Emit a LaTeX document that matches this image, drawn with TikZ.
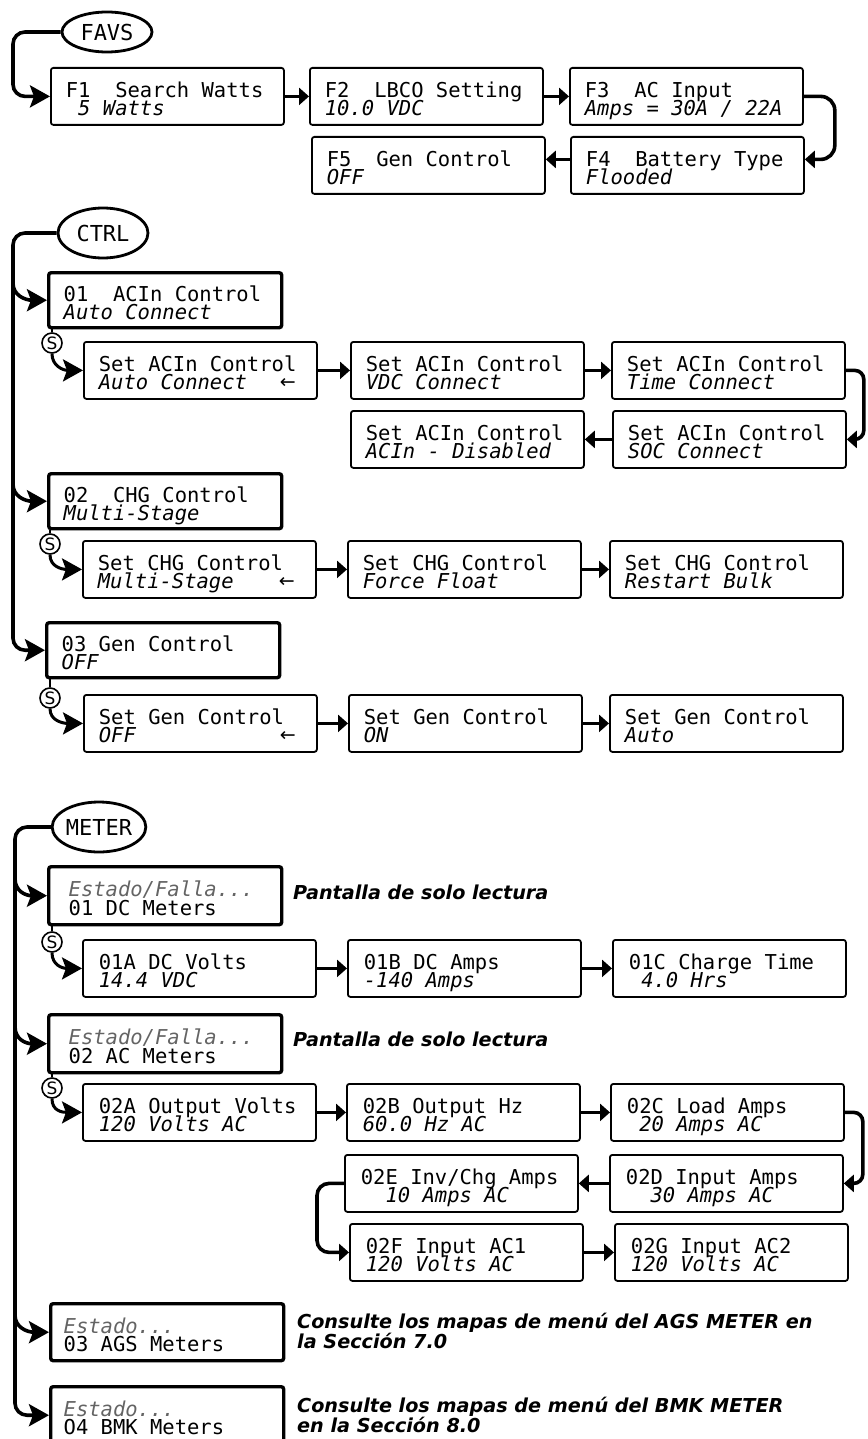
\documentclass[tikz,border=0pt]{standalone}
\usepackage{fontspec}
\setmainfont{DejaVu Sans}
\setsansfont{DejaVu Sans}
\setmonofont{DejaVu Sans Mono}
\usepackage{xcolor}
\usetikzlibrary{arrows.meta,shapes.geometric,calc}

\definecolor{lcdgray}{RGB}{100,100,100}

\newcommand{\lcd}[2]{\spaceskip=0.602em\relax\rule{0pt}{20.5pt}#1\\\smash{\itshape #2}}
\newcommand{\lcdsel}[2]{\spaceskip=0.602em\relax\rule{0pt}{20.5pt}#1\\\smash{\itshape #2}\hskip 0pt plus 1filll\raisebox{1pt}{\smash{\sffamily\fontsize{19}{19}\selectfont ←}}\kern6pt}
\newcommand{\lcdst}[2]{\spaceskip=0.602em\relax\rule{0pt}{20.5pt}{\color{lcdgray}\itshape #1}\\\smash{#2}}

\tikzset{
    lcdbox/.style={draw, anchor=north west, line width=1.8pt, rounded corners=2.5pt,
        minimum width=233pt, minimum height=57pt, text width=203pt, inner sep=0pt,
        align=left, font=\ttfamily\fontsize{20.5}{18.5}\selectfont},
    menubox/.style={lcdbox, line width=3.4pt, minimum height=55pt},
    meterbox/.style={lcdbox, text width=201pt},
    tabnode/.style={ellipse, draw, line width=2.8pt, minimum width=90pt, minimum height=40pt,
        inner sep=0pt, font=\ttfamily\fontsize{22}{22}\selectfont},
    setnode/.style={circle, draw, line width=1.6pt, minimum size=20pt, inner sep=0pt,
        font=\sffamily\fontsize{17}{17}\selectfont},
    note/.style={anchor=base west, align=left, inner sep=0pt,
        font=\sffamily\bfseries\itshape\fontsize{19.2}{20}\selectfont},
    bus/.style={line width=3.6pt, rounded corners=12pt, -{Stealth[length=20pt,width=22pt,inset=4pt]}},
    branch/.style={line width=3.6pt, -{Stealth[length=20pt,width=22pt,inset=4pt]}},
    link/.style={line width=3.6pt, -{Triangle[length=10pt,width=17pt]}},
}

\begin{document}
\begin{tikzpicture}[x=1pt, y=-1pt]

    \useasboundingbox (0,0) rectangle (867,1439);

    \draw (107,32) node[tabnode](favs){FAVS};
    \coordinate (fbus) at (13,0);
    \draw (50,67) node[lcdbox](f1){\lcd{F1~~Search Watts}{~5 Watts}};
    \draw (309,67) node[lcdbox](f2){\lcd{F2~~LBCO Setting}{10.0 VDC}};
    \draw (569,67) node[lcdbox](f3){\lcd{F3~~AC Input}{Amps = 30A / 22A}};
    \draw (570,136) node[lcdbox](f4){\lcd{F4~~Battery Type}{Flooded}};
    \draw (311,136) node[lcdbox](f5){\lcd{F5~~Gen Control}{OFF}};

    \draw [bus] (favs.west) -| (fbus |- f1.west) -- (f1.west);
    \draw [link] (f1.east) -- (f2.west);
    \draw [link] (f2.east) -- (f3.west);
    \draw [link, rounded corners=14pt] (f3.east) -- ++(31,0) |- ([yshift=6pt]f4.east);
    \draw [link] ([yshift=6pt]f4.west) -- ([yshift=6pt]f5.east);

    \draw (103,233) node[tabnode, minimum height=50pt](ctrl){CTRL};
    \coordinate (cbus) at (13,0);
    \draw (47,271) node[menubox](c01){\lcd{01~~ACIn Control}{Auto Connect}};
    \draw (52,343) node[setnode](s1){S};
    \draw (83,341) node[lcdbox](ca1){\lcdsel{Set ACIn Control}{Auto Connect}};
    \draw (350,341) node[lcdbox](ca2){\lcd{Set ACIn Control}{VDC Connect}};
    \draw (611,341) node[lcdbox](ca3){\lcd{Set ACIn Control}{Time Connect}};
    \draw (612,410) node[lcdbox](ca4){\lcd{Set ACIn Control}{SOC Connect}};
    \draw (350,410) node[lcdbox](ca5){\lcd{Set ACIn Control}{ACIn - Disabled}};

    \draw (47,472) node[menubox](c02){\lcd{02~~CHG Control}{Multi-Stage}};
    \draw (50,544) node[setnode](s2){S};
    \draw (82,540) node[lcdbox](cc1){\lcdsel{Set CHG Control}{Multi-Stage}};
    \draw (347,540) node[lcdbox](cc2){\lcd{Set CHG Control}{Force Float}};
    \draw (609,540) node[lcdbox](cc3){\lcd{Set CHG Control}{Restart Bulk}};

    \draw (45,621) node[menubox](c03){\lcd{03 Gen Control}{OFF}};
    \draw (50,698) node[setnode](s3){S};
    \draw (83,694) node[lcdbox](cg1){\lcdsel{Set Gen Control}{OFF}};
    \draw (348,694) node[lcdbox](cg2){\lcd{Set Gen Control}{ON}};
    \draw (609,694) node[lcdbox](cg3){\lcd{Set Gen Control}{Auto}};

    \draw [bus] (ctrl.west) -| (cbus |- c03.west) -- (c03.west);
    \draw [branch] ($(cbus |- c01.west)+(0,-17)$) .. controls +(0,12) and +(-22,0) .. (c01.west);
    \draw [branch] ($(cbus |- c02.west)+(0,-17)$) .. controls +(0,12) and +(-22,0) .. (c02.west);
    \draw [line width=1.5pt] (s1.north) -- (s1.north |- c01.south);
    \draw [line width=1.5pt] (s2.north) -- (s2.north |- c02.south);
    \draw [line width=1.5pt] (s3.north) -- (s3.north |- c03.south);
    \draw [branch, line width=3pt] (s1.south) .. controls +(0,12) and +(-20,0) .. (ca1.west);
    \draw [branch, line width=3pt] (s2.south) .. controls +(0,12) and +(-20,0) .. (cc1.west);
    \draw [branch, line width=3pt] (s3.south) .. controls +(0,12) and +(-20,0) .. (cg1.west);
    \draw [link] (ca1.east) -- (ca2.west);
    \draw [link] (ca2.east) -- (ca3.west);
    \draw [link, rounded corners=9pt] (ca3.east) -- ++(18,0) |- (ca4.east);
    \draw [link] (ca4.west) -- (ca5.east);
    \draw [link] (cc1.east) -- (cc2.west);
    \draw [link] (cc2.east) -- (cc3.west);
    \draw [link] (cg1.east) -- (cg2.west);
    \draw [link] (cg2.east) -- (cg3.west);

    \draw (99,827) node[tabnode, minimum width=92pt, minimum height=50pt](meter){METER};
    \coordinate (mbus) at (15,0);
    \draw (47,865) node[menubox, text width=193pt, minimum height=58pt](m01){\lcdst{Estado/Falla...}{01 DC Meters}};
    \draw (293,899) node[note](n1){Pantalla de solo lectura};
    \draw (52,942) node[setnode](s4){S};
    \draw (82,939) node[meterbox](ma1){\lcd{01A DC Volts}{14.4 VDC}};
    \draw (347,939) node[meterbox](ma2){\lcd{01B DC Amps}{-140 Amps}};
    \draw (612,939) node[meterbox](ma3){\lcd{01C Charge Time}{~4.0 Hrs}};

    \draw (47,1013) node[menubox, text width=193pt, minimum height=58pt](m02){\lcdst{Estado/Falla...}{02 AC Meters}};
    \draw (293,1046) node[note](n2){Pantalla de solo lectura};
    \draw (52,1088) node[setnode](s5){S};
    \draw (82,1083) node[meterbox](mb1){\lcd{02A Output Volts}{120 Volts AC}};
    \draw (346,1083) node[meterbox](mb2){\lcd{02B Output Hz}{60.0 Hz AC}};
    \draw (610,1083) node[meterbox](mb3){\lcd{02C Load Amps}{~20 Amps AC}};
    \draw (609,1154) node[meterbox](mb4){\lcd{02D Input Amps}{~~30 Amps AC}};
    \draw (344,1154) node[meterbox](mb5){\lcd{02E Inv/Chg Amps}{~~10 Amps AC}};
    \draw (349,1223) node[meterbox](mb6){\lcd{02F Input AC1}{120 Volts AC}};
    \draw (614,1223) node[meterbox](mb7){\lcd{02G Input AC2}{120 Volts AC}};

    \draw (49,1302) node[menubox, text width=207pt, minimum height=57pt](m03){\lcdst{Estado...}{03 AGS Meters}};
    \draw (297,1348) node[note](n3){Consulte los mapas de menú del AGS METER en\\la Sección 7.0};
    \draw (49,1385) node[menubox, text width=207pt, minimum height=57pt](m04){\lcdst{Estado...}{O4 BMK Meters}};
    \draw (297,1432) node[note](n4){Consulte los mapas de menú del BMK METER\\en la Sección 8.0};

    \draw [bus] (meter.west) -| (mbus |- m04.west) -- (m04.west);
    \draw [branch] ($(mbus |- m01.west)+(0,-17)$) .. controls +(0,12) and +(-22,0) .. (m01.west);
    \draw [branch] ($(mbus |- m02.west)+(0,-17)$) .. controls +(0,12) and +(-22,0) .. (m02.west);
    \draw [branch] ($(mbus |- m03.west)+(0,-17)$) .. controls +(0,12) and +(-22,0) .. (m03.west);
    \draw [line width=1.5pt] (s4.north) -- (s4.north |- m01.south);
    \draw [line width=1.5pt] (s5.north) -- (s5.north |- m02.south);
    \draw [branch, line width=3pt] (s4.south) .. controls +(0,12) and +(-20,0) .. (ma1.west);
    \draw [branch, line width=3pt] (s5.south) .. controls +(0,12) and +(-20,0) .. (mb1.west);
    \draw [link] (ma1.east) -- (ma2.west);
    \draw [link] (ma2.east) -- (ma3.west);
    \draw [link] (mb1.east) -- (mb2.west);
    \draw [link] (mb2.east) -- (mb3.west);
    \draw [link, rounded corners=9pt] (mb3.east) -- ++(18,0) |- (mb4.east);
    \draw [link] (mb4.west) -- (mb5.east);
    \draw [link, rounded corners=12pt] (mb5.west) -- ++(-27,0) |- (mb6.west);
    \draw [link] (mb6.east) -- (mb7.west);

\end{tikzpicture}
\end{document}
